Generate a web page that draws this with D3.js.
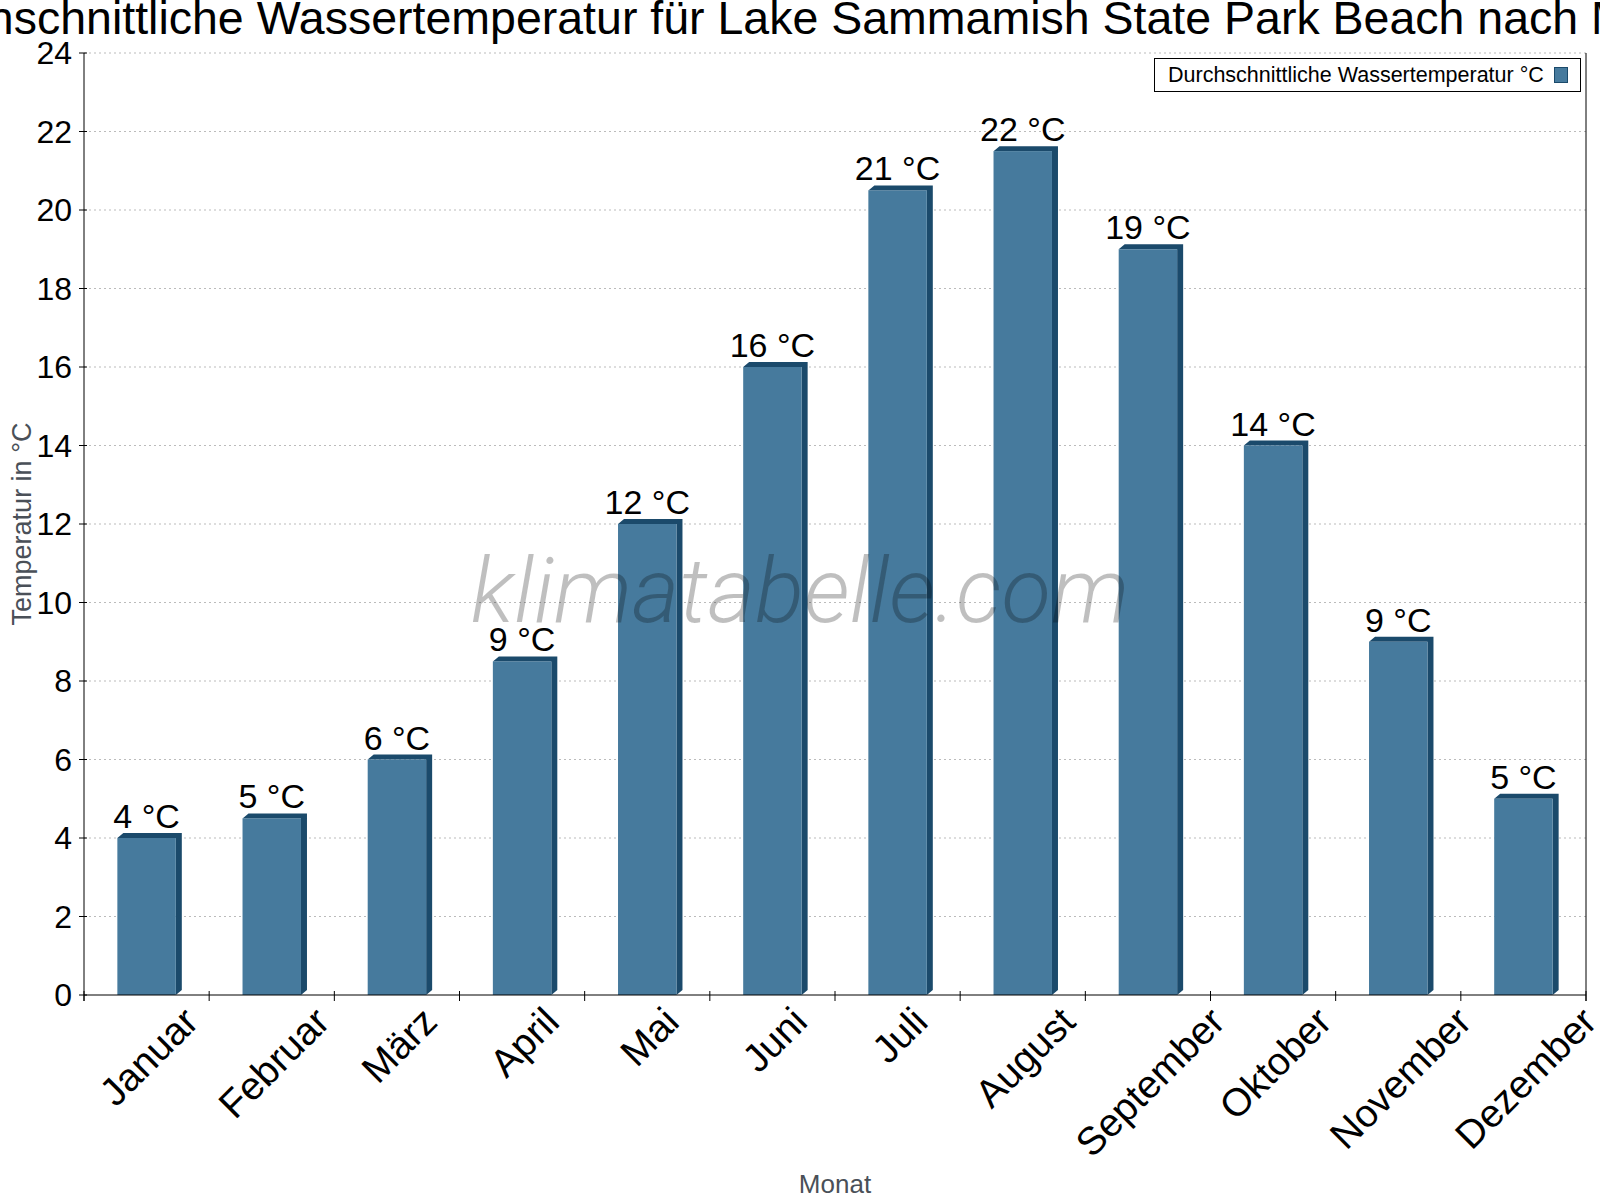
<html>
    <head>
        <script src="https://d3js.org/d3.v7.min.js"></script>
        <style>
            body { margin: 0; background: white; }
            text { font-family: 'Liberation Sans', Arial, sans-serif; }
        </style>
    </head>
    <body>
        <svg id='chart' width='1600' height='1200'></svg>
        <script>
            const months = ['Januar', 'Februar', 'März', 'April', 'Mai', 'Juni', 'Juli',
                            'August', 'September', 'Oktober', 'November', 'Dezember'];
            const waterTemp = [4, 4.5, 6, 8.5, 12, 16, 20.5, 21.5, 19, 14, 9, 5];
            const yTicks = [0, 2, 4, 6, 8, 10, 12, 14, 16, 18, 20, 22, 24];

            const title = 'Durchschnittliche Wassertemperatur für Lake Sammamish State Park Beach nach Monat';
            const legendLabel = 'Durchschnittliche Wassertemperatur °C';

            const svg = d3.select('svg#chart');
            const pLeft = 84, pRight = 1586, pTop = 53, pBottom = 995;
            const front = '#467a9d', dark = '#1b4a6b';
            const dx = 6, dy = 5;

            const xScale = d3.scaleBand().domain(months).range([pLeft, pRight]).paddingInner(0).paddingOuter(0);
            const yScale = d3.scaleLinear().domain([0, 24]).range([pBottom, pTop]);
            const barW = xScale.bandwidth() * 0.467;

            // grid
            svg.selectAll('line.grid').data(yTicks.filter(t => t > 0))
                .join('line')
                .attr('x1', pLeft).attr('x2', pRight)
                .attr('y1', d => yScale(d)).attr('y2', d => yScale(d))
                .attr('stroke', '#bbb').attr('stroke-dasharray', '2,3');

            // bars
            const bars = svg.selectAll('g.bar').data(months).join('g');
            bars.append('polygon')
                .attr('fill', dark)
                .attr('points', (m, i) => {
                    const x0 = xScale(m) + (xScale.bandwidth() - barW) / 2;
                    const x1 = x0 + barW;
                    const y0 = yScale(waterTemp[i]);
                    return [[x0, y0], [x0 + dx, y0 - dy], [x1 + dx, y0 - dy], [x1 + dx, pBottom - dy], [x1, pBottom], [x1, y0]].join(' ');
                });
            bars.append('rect')
                .attr('x', m => xScale(m) + (xScale.bandwidth() - barW) / 2)
                .attr('y', (m, i) => yScale(waterTemp[i]))
                .attr('width', barW)
                .attr('height', (m, i) => pBottom - yScale(waterTemp[i]))
                .attr('fill', front);

            // value labels
            svg.selectAll('text.val').data(months).join('text')
                .attr('x', m => xScale(m) + xScale.bandwidth() / 2)
                .attr('y', (m, i) => yScale(waterTemp[i]) - 10)
                .attr('text-anchor', 'middle')
                .attr('font-size', 34)
                .text((m, i) => Math.round(waterTemp[i]) + ' °C');

            // axes
            svg.append('line').attr('x1', pLeft).attr('x2', pLeft).attr('y1', pTop).attr('y2', pBottom + 6).attr('stroke', 'black');
            svg.append('line').attr('x1', pRight).attr('x2', pRight).attr('y1', pTop).attr('y2', pBottom + 6).attr('stroke', 'black');
            svg.append('line').attr('x1', pLeft).attr('x2', pRight).attr('y1', pBottom).attr('y2', pBottom).attr('stroke', 'black');

            svg.selectAll('line.ytick').data(yTicks).join('line')
                .attr('x1', pLeft - 5).attr('x2', pLeft + 3)
                .attr('y1', d => yScale(d)).attr('y2', d => yScale(d))
                .attr('stroke', 'black');
            svg.selectAll('text.ytick').data(yTicks).join('text')
                .attr('x', pLeft - 12)
                .attr('y', d => yScale(d))
                .attr('dy', '0.35em')
                .attr('text-anchor', 'end')
                .attr('font-size', 32)
                .text(d => d);

            const bounds = months.map(m => xScale(m)).concat([pRight]);
            svg.selectAll('line.xtick').data(bounds).join('line')
                .attr('x1', d => d).attr('x2', d => d)
                .attr('y1', pBottom - 4).attr('y2', pBottom + 6)
                .attr('stroke', 'black');

            // month labels, rotated box centered on the band
            const fs = 39;
            svg.selectAll('text.month').data(months).join('text')
                .attr('font-size', fs)
                .attr('text-anchor', 'middle')
                .attr('dy', '0.35em')
                .text(m => m)
                .attr('transform', function (m) {
                    const w = this.getComputedTextLength();
                    const half = 0.7071 * (w + fs * 0.75) / 2;
                    return `translate(${xScale(m) + xScale.bandwidth() / 2 + 2},${pBottom + 9 + half}) rotate(-45)`;
                });

            // axis titles
            svg.append('text')
                .attr('transform', `translate(31,${(pTop + pBottom) / 2}) rotate(-90)`)
                .attr('text-anchor', 'middle')
                .attr('font-size', 27).attr('fill', '#4a5058')
                .text('Temperatur in °C');
            svg.append('text')
                .attr('x', (pLeft + pRight) / 2).attr('y', 1193)
                .attr('text-anchor', 'middle')
                .attr('font-size', 26).attr('fill', '#4a5058')
                .text('Monat');

            // title (wider than the page, as in the original)
            svg.append('text')
                .attr('x', 805).attr('y', 34)
                .attr('text-anchor', 'middle')
                .attr('font-size', 46.5)
                .text(title);

            // legend
            svg.append('rect').attr('x', 1154.5).attr('y', 58.5).attr('width', 426).attr('height', 33)
                .attr('fill', 'white').attr('stroke', 'black');
            svg.append('text').attr('x', 1168).attr('y', 82).attr('font-size', 21.5).text(legendLabel);
            svg.append('rect').attr('x', 1554.5).attr('y', 67.5).attr('width', 13).attr('height', 15)
                .attr('fill', front).attr('stroke', dark);

            // watermark
            svg.append('text')
                .attr('x', 800).attr('y', 622)
                .attr('text-anchor', 'middle')
                .style('font-family', 'Roboto')
                .attr('font-weight', 300)
                .attr('font-style', 'italic')
                .attr('font-size', 91)
                .attr('fill', 'black').attr('fill-opacity', 0.25)
                .text('klimatabelle.com');
        </script>
    </body>
</html>
